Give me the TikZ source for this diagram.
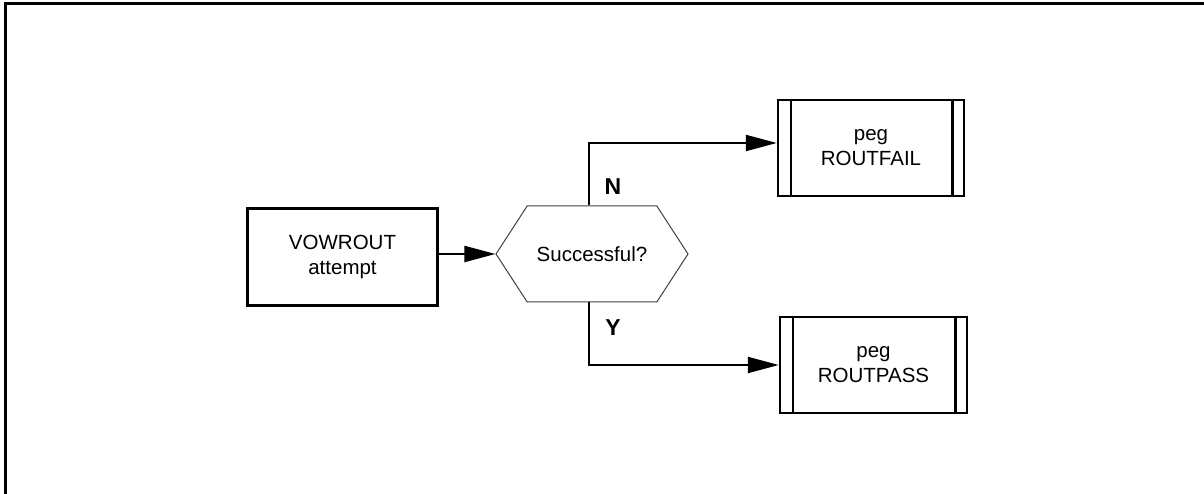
\documentclass[tikz,border=0pt]{standalone}
\usepackage{fontspec}
\setmainfont{Liberation Sans}
\usetikzlibrary{arrows.meta,shapes.symbols}
\begin{document}
\begin{tikzpicture}[x=1pt,y=1pt,
  box/.style={draw,line width=2.5pt,minimum width=190pt,minimum height=97pt,inner sep=0pt,
    align=center,font=\fontsize{20.5}{25}\selectfont},
  decision/.style={signal,signal to=east and west,signal pointer angle=114,draw=black!75,line width=1pt,
    minimum width=192pt,minimum height=96pt,inner sep=0pt,font=\fontsize{20.5}{25}\selectfont},
  flow/.style={line width=2.2pt,-{Triangle[length=31pt,width=16pt]}},
  answer/.style={font=\fontsize{23}{25}\selectfont\bfseries}]
\useasboundingbox (0,0) rectangle (1204,494);
% frame, open at the right and bottom
\draw[line width=3pt] (5.5,0) -- (5.5,490.5) -- (1204,490.5);
% nodes
\node[box] (attempt) at (342.5,237) {VOWROUT\\attempt};
\node[decision] (ok) at (592,240) {Successful?};
\node[box,minimum width=186pt,minimum height=96pt] (fail) at (871,346) {peg\\ROUTFAIL};
\node[box,minimum width=187pt,minimum height=96pt] (pass) at (873.5,129) {peg\\ROUTPASS};
% side bars of the predefined-process boxes
\foreach \n in {fail,pass}{
  \draw[line width=2.5pt] ([xshift=14pt]\n.north west) -- ([xshift=14pt]\n.south west);
  \draw[line width=2.5pt] ([xshift=-13pt]\n.north east) -- ([xshift=-13pt]\n.south east);}
% connectors
\draw[flow] ([yshift=3pt]attempt.east) -- (ok.west);
\draw[flow] ([xshift=-3pt]ok.north) |- ([yshift=5pt]fail.west);
\draw[flow] ([xshift=-3pt]ok.south) |- (pass.west);
\node[answer] (no) at (613,307) {N};
\node[answer] (yes) at (613,166) {Y};
\end{tikzpicture}
\end{document}
